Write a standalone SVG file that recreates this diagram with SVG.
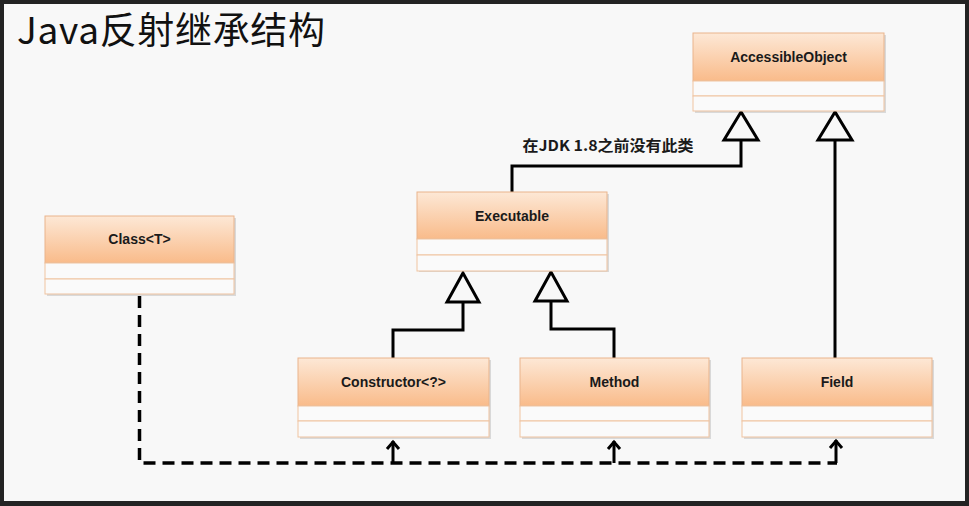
<svg xmlns="http://www.w3.org/2000/svg" width="969" height="506" viewBox="0 0 969 506">
<defs>
<linearGradient id="hdr" x1="0" y1="0" x2="0" y2="1">
<stop offset="0" stop-color="#fde8d6"/>
<stop offset="1" stop-color="#f9bb8a"/>
</linearGradient>
<marker id="open" viewBox="-2 -8 12 16" refX="8" refY="0" markerWidth="12" markerHeight="16" markerUnits="userSpaceOnUse" orient="auto">
<path d="M0,-6 L7,0 L0,6" fill="none" stroke="#000" stroke-width="3"/>
</marker>
</defs>
<style>
.shadow{fill:#000;opacity:0.12}
.hd{fill:url(#hdr);stroke:#e9b48c;stroke-width:1}
.row{fill:#fafafa;stroke:#efc3a0;stroke-width:1}
.lbl{font-family:"Liberation Sans",Arial,sans-serif;font-weight:bold;font-size:14px;fill:#1a1a1a;text-anchor:middle}
.solid{fill:none;stroke:#000;stroke-width:3}
.tri{fill:#f8f8f8;stroke:#000;stroke-width:3;stroke-linejoin:miter}
.dash{fill:none;stroke:#000;stroke-width:3.5;stroke-dasharray:12 7}
.arr{fill:none;stroke:#000;stroke-width:3}
</style>
<rect x="0" y="0" width="969" height="506" fill="#232323"/>
<rect x="4" y="4" width="961" height="497" fill="#f8f8f8"/>
<text x="17" y="44" font-family="'Noto Sans CJK SC','Noto Sans',sans-serif" font-size="37" fill="#111" textLength="308" lengthAdjust="spacing">Java反射继承结构</text>

<g id="connectors">
<path class="solid" d="M512,192 V166 H741 V140"/>
<polygon class="tri" points="741,112 724,140 758,140"/>
<path class="solid" d="M835,358 V140"/>
<polygon class="tri" points="835,112 818,140 852,140"/>
<path class="solid" d="M393,358 V330 H463 V302"/>
<polygon class="tri" points="463,273 447,302 479,302"/>
<path class="solid" d="M614,358 V329 H551 V301"/>
<polygon class="tri" points="551,272 535,301 567,301"/>
<path class="dash" d="M139.5,296 V463 H837"/>
<path class="arr" d="M393,463 V441" marker-end="url(#open)"/>
<path class="arr" d="M614,463 V441" marker-end="url(#open)"/>
<path class="arr" d="M836,463 V440" marker-end="url(#open)"/>
<text x="608" y="151" font-family="'Noto Sans CJK SC','Liberation Sans',sans-serif" font-weight="bold" font-size="15" fill="#1a1a1a" text-anchor="middle" textLength="171" lengthAdjust="spacingAndGlyphs">在JDK 1.8之前没有此类</text>
</g>

<g id="accessibleobject">
<rect class="shadow" x="695" y="35" width="191" height="78"/>
<rect class="hd" x="693" y="33" width="191" height="48"/>
<rect class="row" x="693" y="81" width="191" height="15"/>
<rect class="row" x="693" y="96" width="191" height="15"/>
<text class="lbl" x="788.5" y="62">AccessibleObject</text>
</g>

<g id="executable">
<rect class="shadow" x="419" y="194" width="190" height="78"/>
<rect class="hd" x="417" y="192" width="190" height="47"/>
<rect class="row" x="417" y="239" width="190" height="16"/>
<rect class="row" x="417" y="255" width="190" height="16"/>
<text class="lbl" x="512" y="221">Executable</text>
</g>

<g id="class">
<rect class="shadow" x="47" y="218" width="189" height="78"/>
<rect class="hd" x="45" y="216" width="189" height="47"/>
<rect class="row" x="45" y="263" width="189" height="16"/>
<rect class="row" x="45" y="279" width="189" height="15"/>
<text class="lbl" x="139.5" y="244">Class&lt;T&gt;</text>
</g>

<g id="constructor">
<rect class="shadow" x="300" y="360" width="191" height="79"/>
<rect class="hd" x="298" y="358" width="191" height="48"/>
<rect class="row" x="298" y="406" width="191" height="15"/>
<rect class="row" x="298" y="421" width="191" height="16"/>
<text class="lbl" x="393.5" y="387">Constructor&lt;?&gt;</text>
</g>

<g id="method">
<rect class="shadow" x="522" y="360" width="189" height="79"/>
<rect class="hd" x="520" y="358" width="189" height="48"/>
<rect class="row" x="520" y="406" width="189" height="15"/>
<rect class="row" x="520" y="421" width="189" height="16"/>
<text class="lbl" x="614.5" y="387">Method</text>
</g>

<g id="field">
<rect class="shadow" x="744" y="360" width="190" height="79"/>
<rect class="hd" x="742" y="358" width="190" height="48"/>
<rect class="row" x="742" y="406" width="190" height="15"/>
<rect class="row" x="742" y="421" width="190" height="16"/>
<text class="lbl" x="837" y="387">Field</text>
</g>
</svg>
